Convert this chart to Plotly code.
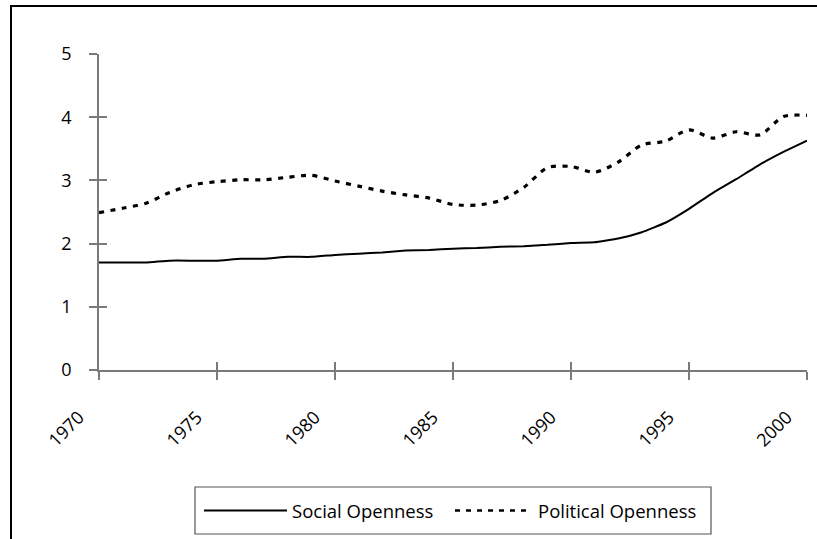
import plotly.graph_objects as go

years = list(range(1970, 2001))
social_openness = [1.70, 1.70, 1.70, 1.73, 1.73, 1.73, 1.76, 1.76, 1.79, 1.79,
                   1.82, 1.84, 1.86, 1.89, 1.90, 1.92, 1.93, 1.95, 1.96, 1.98,
                   2.01, 2.02, 2.08, 2.18, 2.33, 2.55, 2.80, 3.02, 3.25, 3.45, 3.63]
political_openness = [2.49, 2.56, 2.64, 2.81, 2.93, 2.98, 3.01, 3.01, 3.05, 3.08,
                      2.99, 2.91, 2.83, 2.77, 2.72, 2.62, 2.61, 2.68, 2.89, 3.20,
                      3.22, 3.13, 3.29, 3.56, 3.62, 3.80, 3.67, 3.77, 3.72, 4.01, 4.03]
x_tick_vals = [1970, 1975, 1980, 1985, 1990, 1995, 2000]
x_tick_text = ["1970", "1975", "1980", "1985", "1990", "1995", "2000"]
y_tick_vals = [0, 1, 2, 3, 4, 5]
series_names = ["Social Openness", "Political Openness"]

FONT = "Open Sans"
AX = "#7a7a7a"

W, H = 817, 539
# desired plot-area edges in window pixels
PL, PR, PT, PB = 99, 807, 54, 370
L, R, T, B = PL, W - PR, PT, H - PB
pw, ph = PR - PL, PB - PT

def px(xp):
    return (xp - PL) / pw

def py(yp):
    return (PB - yp) / ph

fig = go.Figure()
fig.add_trace(go.Scatter(x=years, y=social_openness, mode="lines",
                         name=series_names[0], showlegend=False,
                         line=dict(color="black", width=2, shape="spline", smoothing=0.3)))
fig.add_trace(go.Scatter(x=years, y=political_openness, mode="lines",
                         name=series_names[1], showlegend=False, xaxis="x2", yaxis="y2",
                         line=dict(color="black", width=3.2, dash="5px,6.5px",
                                   shape="spline", smoothing=0.8)))

fig.update_layout(
    width=W, height=H,
    margin=dict(l=L, r=R, t=T, b=B, pad=0),
    paper_bgcolor="white", plot_bgcolor="white",
    font=dict(family=FONT, size=18, color="black"),
    showlegend=False,
    xaxis=dict(range=[1970, 2000], tickvals=x_tick_vals, ticktext=x_tick_text,
               tickangle=-45, ticks="outside", ticklen=8, tickwidth=1.5, tickcolor=AX,
               showline=True, linecolor=AX, linewidth=1.5, showgrid=False, zeroline=False,
               ticklabelshift=-20, ticklabelstandoff=20,
               tickfont=dict(family=FONT, size=18)),
    yaxis=dict(range=[0, 5], tickvals=y_tick_vals, ticks="outside", ticklen=8,
               tickwidth=1.5, tickcolor=AX, showline=True, linecolor=AX, linewidth=1.5,
               showgrid=False, zeroline=False, ticklabelstandoff=14,
               tickfont=dict(family=FONT, size=18)),
    xaxis2=dict(range=[1970, 2000], tickvals=x_tick_vals, overlaying="x", anchor="y2",
                ticks="inside", ticklen=8, tickwidth=1.5, tickcolor=AX,
                showticklabels=False, showline=False, showgrid=False, zeroline=False),
    yaxis2=dict(range=[0, 5], tickvals=y_tick_vals, overlaying="y", anchor="x2", side="left",
                ticks="inside", ticklen=8, tickwidth=1.5, tickcolor=AX,
                showticklabels=False, showline=False, showgrid=False, zeroline=False),
)

shapes = []
# outer chart frame (extends past the cropped image edges)
shapes.append(dict(type="rect", xref="paper", yref="paper",
                   x0=px(11), x1=px(840), y0=py(570), y1=py(6),
                   line=dict(color="black", width=2), fillcolor="rgba(0,0,0,0)", layer="below"))
# legend box
shapes.append(dict(type="rect", xref="paper", yref="paper",
                   x0=px(195), x1=px(711), y0=py(534), y1=py(487),
                   line=dict(color="#555555", width=1.2), fillcolor="rgba(0,0,0,0)"))
# legend keys
shapes.append(dict(type="line", xref="paper", yref="paper",
                   x0=px(204), x1=px(287), y0=py(510.5), y1=py(510.5),
                   line=dict(color="black", width=2)))
shapes.append(dict(type="line", xref="paper", yref="paper",
                   x0=px(455), x1=px(530), y0=py(510.5), y1=py(510.5),
                   line=dict(color="black", width=2.5, dash="5px,6px")))
fig.update_layout(shapes=shapes)

annotations = [
    dict(text=series_names[0], xref="paper", yref="paper", x=px(290), y=py(510.5),
         xanchor="left", yanchor="middle", showarrow=False,
         font=dict(family=FONT, size=18.5, color="black")),
    dict(text=series_names[1], xref="paper", yref="paper", x=px(536), y=py(510.5),
         xanchor="left", yanchor="middle", showarrow=False,
         font=dict(family=FONT, size=18.5, color="black")),
]
fig.update_layout(annotations=annotations)

fig.write_html("out.html", config={"displayModeBar": False},
               post_script="document.body.style.margin='0';")
